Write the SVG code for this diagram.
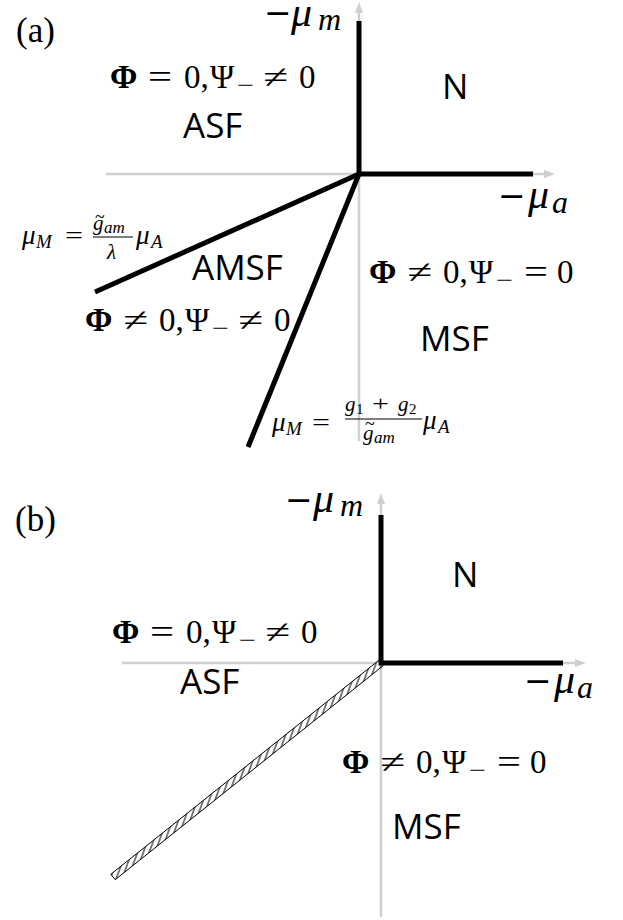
<svg xmlns="http://www.w3.org/2000/svg" width="623" height="920" viewBox="0 0 623 920">
<style>
.m{font-family:"Liberation Serif","Times New Roman",serif;fill:#000}
.d{font-family:"DejaVu Serif",serif}
.i{font-style:italic}
.b{font-weight:bold}
.r{font-size:33px}
.s{font-family:"Open Sans","Noto Sans",sans-serif;font-size:35px;fill:#000}
.ax{stroke:#cfcfcf;stroke-width:2.5;fill:none}
.ph{stroke:#000;stroke-width:5;fill:none;stroke-linejoin:miter;stroke-linecap:butt}
.bar{stroke:#000;stroke-width:1.1}
</style>
<defs>
<marker id="arr" markerUnits="userSpaceOnUse" markerWidth="12" markerHeight="10" viewBox="0 -5 12 10" refX="0" refY="0" orient="auto">
<path d="M0,-4 L11,0 L0,4 z" fill="#cfcfcf"/>
</marker>
<pattern id="hatch" patternUnits="userSpaceOnUse" width="5.5" height="12" patternTransform="rotate(20)">
<rect width="5.5" height="12" fill="#fff"/>
<line x1="2.75" y1="0" x2="2.75" y2="12" stroke="#000" stroke-width="1"/>
</pattern>
</defs>

<!-- Panel (a) -->
<g id="panel-a-axes">
<line class="ax" x1="359" y1="441" x2="359" y2="13" marker-end="url(#arr)"/>
<line class="ax" x1="106" y1="174" x2="544" y2="174" marker-end="url(#arr)"/>
</g>
<g id="connectors-a">
<polyline class="ph" points="359,21 359,174 533,174"/>
<line class="ph" x1="359" y1="174" x2="95" y2="292"/>
<line class="ph" x1="359" y1="174" x2="248" y2="447"/>
</g>

<g id="label-a"><text class="m" x="16" y="42" font-size="35">(a)</text></g>
<g id="axis-a-m">
<text class="m d" x="264" y="24" font-size="33">−</text>
<text class="m i" x="291" y="26" font-size="42">μ</text>
<text class="m i" x="318" y="30" font-size="32">m</text>
</g>
<g id="axis-a-a">
<text class="m d" x="498" y="207" font-size="33">−</text>
<text class="m i" x="528" y="208" font-size="42">μ</text>
<text class="m i" x="552" y="213" font-size="32">a</text>
</g>

<g id="region-asf-a">
<g transform="translate(110,88)">
<text class="m r b" x="0" y="0">Φ</text>
<text class="m r" x="38" y="0" textLength="24" lengthAdjust="spacingAndGlyphs">=</text>
<text class="m r" x="74" y="0">0,</text>
<text class="m r" x="100" y="0">Ψ</text>
<text class="m" x="127" y="5" font-size="24" textLength="17" lengthAdjust="spacingAndGlyphs">−</text>
<text class="m r" x="153" y="0" textLength="25" lengthAdjust="spacingAndGlyphs">≠</text>
<text class="m r" x="189" y="0">0</text>
</g>
<text class="s" x="183" y="138">ASF</text>
</g>
<g id="region-n-a"><text class="s" x="442" y="99">N</text></g>
<g id="region-amsf">
<text class="s" x="192" y="280">AMSF</text>
<g transform="translate(85,331)">
<text class="m r b" x="0" y="0">Φ</text>
<text class="m r" x="38" y="0" textLength="25" lengthAdjust="spacingAndGlyphs">≠</text>
<text class="m r" x="74" y="0">0,</text>
<text class="m r" x="100" y="0">Ψ</text>
<text class="m" x="127" y="5" font-size="24" textLength="17" lengthAdjust="spacingAndGlyphs">−</text>
<text class="m r" x="153" y="0" textLength="25" lengthAdjust="spacingAndGlyphs">≠</text>
<text class="m r" x="189" y="0">0</text>
</g>
</g>
<g id="region-msf-a">
<g transform="translate(369,283)">
<text class="m r b" x="0" y="0">Φ</text>
<text class="m r" x="38" y="0" textLength="25" lengthAdjust="spacingAndGlyphs">≠</text>
<text class="m r" x="74" y="0">0,</text>
<text class="m r" x="100" y="0">Ψ</text>
<text class="m" x="127" y="5" font-size="24" textLength="17" lengthAdjust="spacingAndGlyphs">−</text>
<text class="m r" x="155" y="0" textLength="24" lengthAdjust="spacingAndGlyphs">=</text>
<text class="m r" x="188" y="0">0</text>
</g>
<text class="s" x="420" y="351">MSF</text>
</g>

<g id="formula-1">
<text class="m i"><tspan x="22" y="244" font-size="27">μ</tspan><tspan x="36" y="248" font-size="19">M</tspan></text>
<text class="m" x="65" y="244" font-size="25" textLength="18" lengthAdjust="spacingAndGlyphs">=</text>
<text class="m" x="95" y="223" font-size="18">~</text>
<text class="m i"><tspan x="93" y="230" font-size="21">g</tspan><tspan x="104" y="233" font-size="17">am</tspan></text>
<line class="bar" x1="93" y1="237" x2="133" y2="237"/>
<text class="m i" x="107" y="259" font-size="21">λ</text>
<text class="m i"><tspan x="136" y="244" font-size="27">μ</tspan><tspan x="151" y="248" font-size="19">A</tspan></text>
</g>

<g id="formula-2">
<text class="m i"><tspan x="272" y="431" font-size="27">μ</tspan><tspan x="286" y="435" font-size="19">M</tspan></text>
<text class="m" x="312" y="431" font-size="25" textLength="18" lengthAdjust="spacingAndGlyphs">=</text>
<text class="m"><tspan class="i" x="345" y="411" font-size="21">g</tspan><tspan x="356" y="414" font-size="15">1</tspan></text>
<text class="m" x="372" y="411" font-size="22" textLength="17" lengthAdjust="spacingAndGlyphs">+</text>
<text class="m"><tspan class="i" x="398" y="411" font-size="21">g</tspan><tspan x="409" y="414" font-size="15">2</tspan></text>
<line class="bar" x1="345" y1="419" x2="422" y2="419"/>
<text class="m" x="365" y="430" font-size="18">~</text>
<text class="m i"><tspan x="363" y="440" font-size="21">g</tspan><tspan x="374" y="443" font-size="17">am</tspan></text>
<text class="m i"><tspan x="423" y="429" font-size="27">μ</tspan><tspan x="438" y="433" font-size="19">A</tspan></text>
</g>

<!-- Panel (b) -->
<g id="panel-b-axes">
<line class="ax" x1="381" y1="917" x2="381" y2="504" marker-end="url(#arr)"/>
<line class="ax" x1="122" y1="663" x2="575" y2="663" marker-end="url(#arr)"/>
</g>
<g id="connectors-b">
<polygon id="hatched-boundary" points="383.2,665.7 378.8,660.3 110.8,874.3 115.2,879.7" fill="url(#hatch)" stroke="#000" stroke-width="1"/>
<polyline class="ph" points="381,515 381,663 563,663"/>
</g>

<g id="label-b"><text class="m" x="15" y="531" font-size="35">(b)</text></g>
<g id="axis-b-m">
<text class="m d" x="285" y="511" font-size="33">−</text>
<text class="m i" x="313" y="512" font-size="42">μ</text>
<text class="m i" x="340" y="516" font-size="32">m</text>
</g>
<g id="axis-b-a">
<text class="m d" x="524" y="692" font-size="33">−</text>
<text class="m i" x="554" y="693" font-size="42">μ</text>
<text class="m i" x="577" y="698" font-size="32">a</text>
</g>
<g id="region-n-b"><text class="s" x="452" y="587">N</text></g>
<g id="region-asf-b">
<g transform="translate(112,643)">
<text class="m r b" x="0" y="0">Φ</text>
<text class="m r" x="38" y="0" textLength="24" lengthAdjust="spacingAndGlyphs">=</text>
<text class="m r" x="74" y="0">0,</text>
<text class="m r" x="100" y="0">Ψ</text>
<text class="m" x="127" y="5" font-size="24" textLength="17" lengthAdjust="spacingAndGlyphs">−</text>
<text class="m r" x="153" y="0" textLength="25" lengthAdjust="spacingAndGlyphs">≠</text>
<text class="m r" x="189" y="0">0</text>
</g>
<text class="s" x="180" y="694">ASF</text>
</g>
<g id="region-msf-b">
<g transform="translate(342,773)">
<text class="m r b" x="0" y="0">Φ</text>
<text class="m r" x="38" y="0" textLength="25" lengthAdjust="spacingAndGlyphs">≠</text>
<text class="m r" x="74" y="0">0,</text>
<text class="m r" x="100" y="0">Ψ</text>
<text class="m" x="127" y="5" font-size="24" textLength="17" lengthAdjust="spacingAndGlyphs">−</text>
<text class="m r" x="155" y="0" textLength="24" lengthAdjust="spacingAndGlyphs">=</text>
<text class="m r" x="188" y="0">0</text>
</g>
<text class="s" x="392" y="839">MSF</text>
</g>
</svg>
